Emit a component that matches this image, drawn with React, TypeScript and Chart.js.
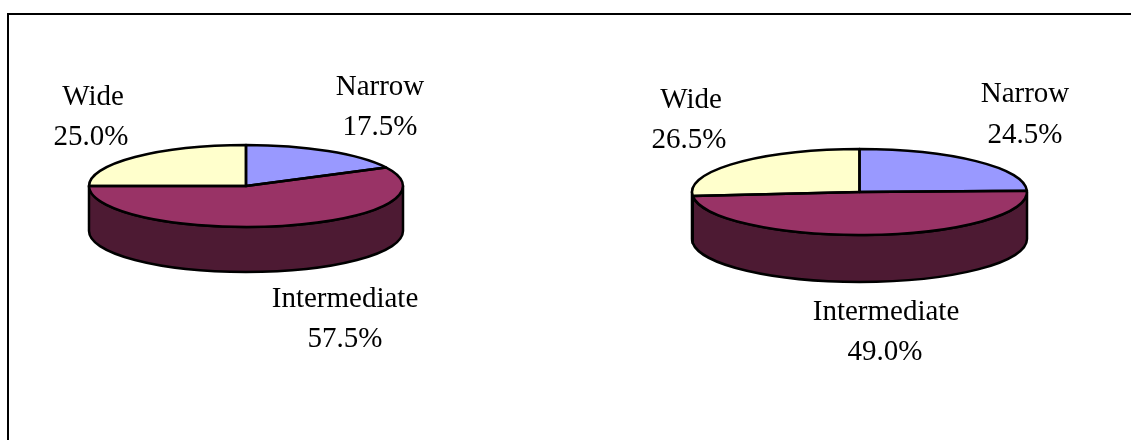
import React, { useEffect, useRef } from "react";
import { Chart, registerables } from "chart.js";

Chart.register(...registerables);

const categories = ["Narrow", "Intermediate", "Wide"];
const leftValues = [17.5, 57.5, 25.0];
const rightValues = [24.5, 49.0, 26.5];
const topColors = ["#9999FF", "#993366", "#FFFFCC"];
const sideColors = ["#4D4D80", "#4D1A33", "#808066"];

const WIDTH = 1131;
const HEIGHT = 440;
const FONT = '29px "Liberation Serif", "Times New Roman", serif';
const LINE = 2.5;

type LabelPos = { x: number; name: number; pct: number; pctX: number };

const leftLayout = {
  cx: 246, cy: 186, rx: 157, ry: 41, depth: 45,
  labels: [
    { x: 380, name: 95, pct: 135, pctX: 380 },
    { x: 345, name: 307, pct: 347, pctX: 345 },
    { x: 93, name: 105, pct: 145, pctX: 91 },
  ] as LabelPos[],
};
const rightLayout = {
  cx: 859.5, cy: 192, rx: 167.5, ry: 43, depth: 47,
  labels: [
    { x: 1025, name: 102, pct: 143, pctX: 1025 },
    { x: 886, name: 320, pct: 360, pctX: 885 },
    { x: 691, name: 108, pct: 148, pctX: 689 },
  ] as LabelPos[],
};

const pie3d = {
  id: "pie3d",
  beforeDatasetDraw(chart: any, _args: any, opts: any) {
    const { ctx } = chart;
    const arcs = chart.getDatasetMeta(0).data;
    const k = opts.ry / opts.rx;
    const depth = opts.depth;
    // side wall, only where a slice faces the viewer
    arcs.forEach((el: any, i: number) => {
      const p = el.getProps(["x", "y", "startAngle", "endAngle", "outerRadius"], true);
      const lo = Math.max(p.startAngle, 0);
      const hi = Math.min(p.endAngle, Math.PI);
      if (hi <= lo) return;
      const rx = p.outerRadius;
      const ry = rx * k;
      ctx.save();
      ctx.beginPath();
      ctx.ellipse(p.x, p.y + depth, rx, ry, 0, lo, hi);
      ctx.ellipse(p.x, p.y, rx, ry, 0, hi, lo, true);
      ctx.closePath();
      ctx.fillStyle = sideColors[i];
      ctx.fill();
      ctx.lineWidth = LINE;
      ctx.strokeStyle = "#000";
      ctx.lineJoin = "round";
      ctx.stroke();
      ctx.restore();
    });
    // flatten the library's own arcs into the tilted top face
    const first = arcs[0].getProps(["x", "y"], true);
    ctx.save();
    ctx.translate(first.x, first.y);
    ctx.scale(1, k);
    ctx.translate(-first.x, -first.y);
  },
  afterDatasetDraw(chart: any, _args: any, opts: any) {
    const { ctx } = chart;
    ctx.restore();
    const arcs = chart.getDatasetMeta(0).data;
    const k = opts.ry / opts.rx;
    const values = chart.data.datasets[0].data;
    arcs.forEach((el: any) => {
      const p = el.getProps(["x", "y", "startAngle", "endAngle", "outerRadius"], true);
      ctx.save();
      ctx.beginPath();
      ctx.moveTo(p.x, p.y);
      ctx.ellipse(p.x, p.y, p.outerRadius, p.outerRadius * k, 0, p.startAngle, p.endAngle);
      ctx.closePath();
      ctx.lineWidth = LINE;
      ctx.strokeStyle = "#000";
      ctx.lineJoin = "round";
      ctx.stroke();
      ctx.restore();
    });
    ctx.save();
    ctx.font = FONT;
    ctx.fillStyle = "#000";
    ctx.textAlign = "center";
    ctx.textBaseline = "alphabetic";
    chart.data.labels.forEach((name: string, i: number) => {
      const pos: LabelPos = opts.labels[i];
      ctx.fillText(name, pos.x, pos.name);
      ctx.fillText(`${values[i].toFixed(1)}%`, pos.pctX, pos.pct);
    });
    ctx.restore();
  },
};

function Pie3D({ values, layout }: { values: number[]; layout: typeof leftLayout }) {
  const ref = useRef<HTMLCanvasElement>(null);
  useEffect(() => {
    const padLeft = Math.max(0, 2 * layout.cx - WIDTH);
    const padRight = Math.max(0, WIDTH - 2 * layout.cx);
    const chart = new Chart(ref.current!, {
      type: "pie",
      data: {
        labels: categories,
        datasets: [
          {
            data: values,
            backgroundColor: topColors,
            borderWidth: 0,
            radius: layout.rx,
            clip: false,
          } as any,
        ],
      },
      options: {
        responsive: false,
        animation: false,
        layout: { padding: { left: padLeft, right: padRight, top: 0, bottom: HEIGHT - 2 * layout.cy } },
        plugins: {
          legend: { display: false },
          tooltip: { enabled: false },
          pie3d: layout,
        } as any,
      },
      plugins: [pie3d],
    });
    return () => chart.destroy();
  }, [values, layout]);
  return (
    <canvas
      ref={ref}
      width={WIDTH}
      height={HEIGHT}
      style={{ position: "absolute", left: 0, top: 0, width: WIDTH, height: HEIGHT }}
    />
  );
}

export default function App() {
  return (
    <div style={{ position: "fixed", left: 0, top: 0, width: WIDTH, height: HEIGHT, background: "#fff", overflow: "hidden" }}>
      <div
        style={{
          position: "absolute",
          left: 7,
          top: 13,
          right: 0,
          bottom: 0,
          borderTop: "2px solid #000",
          borderLeft: "2px solid #000",
        }}
      />
      <Pie3D values={leftValues} layout={leftLayout} />
      <Pie3D values={rightValues} layout={rightLayout} />
    </div>
  );
}
